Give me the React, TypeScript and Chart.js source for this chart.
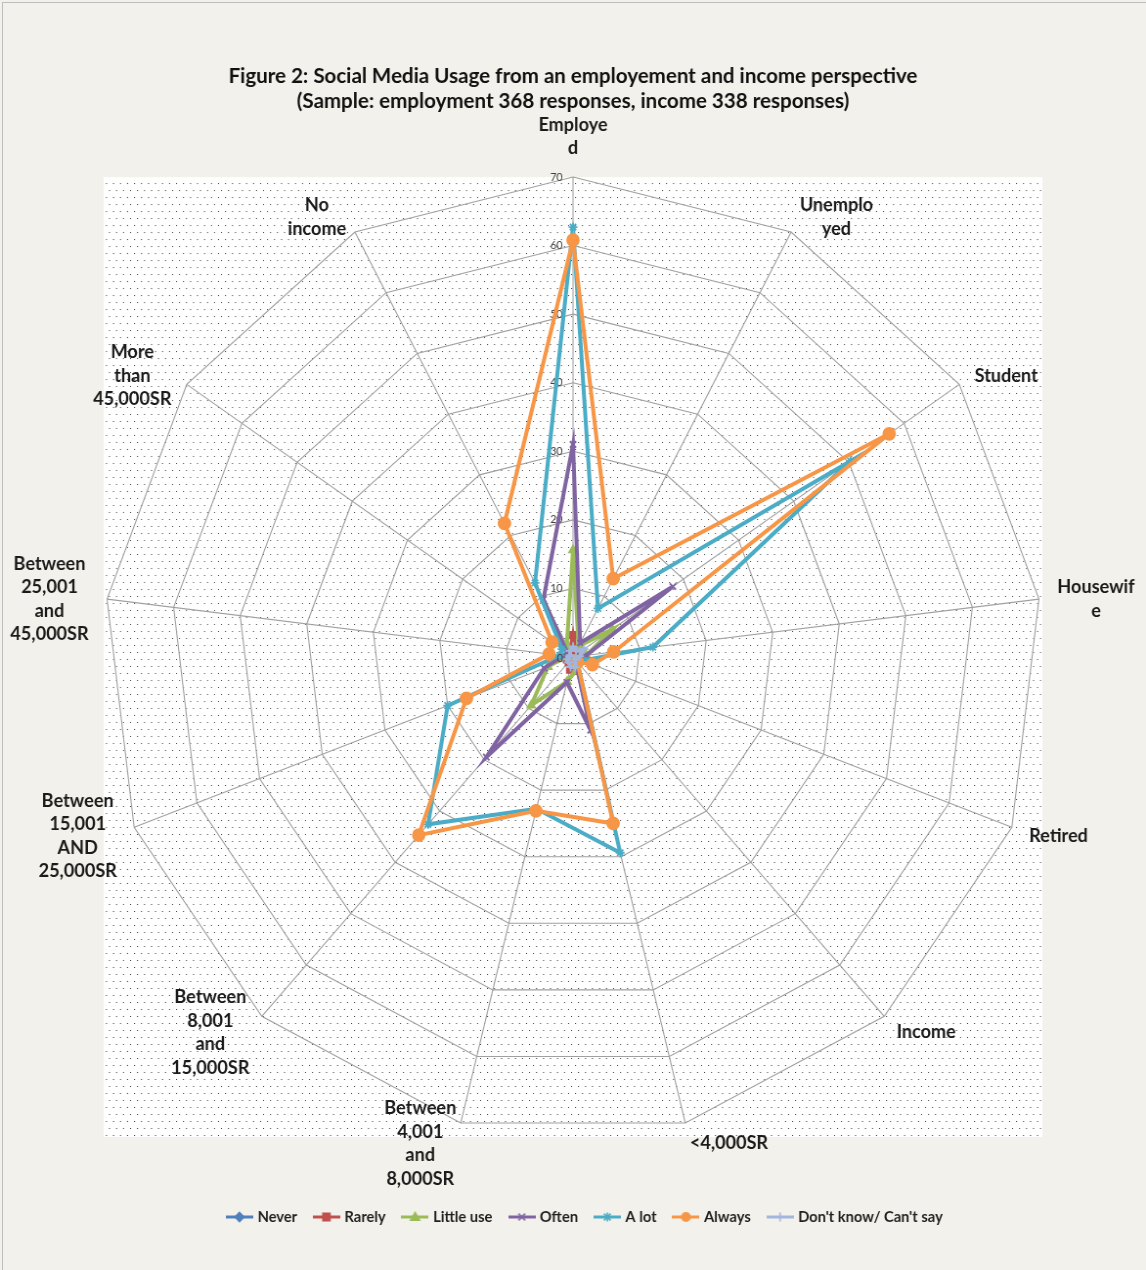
import React, { useEffect, useRef } from "react";
import { Chart, registerables } from "chart.js";

Chart.register(...registerables);

// ---------- data ----------
const categories: string[][] = [
  ["Employe", "d"],
  ["Unemplo", "yed"],
  ["Student"],
  ["Housewif", "e"],
  ["Retired"],
  ["Income"],
  ["<4,000SR"],
  ["Between", "4,001", "and", "8,000SR"],
  ["Between", "8,001", "and", "15,000SR"],
  ["Between", "15,001", "AND", "25,000SR"],
  ["Between", "25,001", "and", "45,000SR"],
  ["More", "than", "45,000SR"],
  ["No", "income"],
];

const seriesNames = ["Never", "Rarely", "Little use", "Often", "A lot", "Always", "Don't know/ Can't say"];

const never = [1.0, 0.5, 1.0, 0.5, 0.3, 0.3, 1.0, 1.0, 0.6, 0.5, 0.3, 0.3, 0.5];
const rarely = [3.2, 1.0, 1.5, 1.0, 0.5, 0.5, 2.1, 1.9, 1.0, 1.0, 0.5, 0.5, 1.0];
const littleUse = [15.6, 1.8, 7.1, 2.0, 1.0, 0.5, 2.0, 3.7, 9.4, 4.0, 1.0, 1.0, 2.0];
const often = [31.0, 2.3, 18.1, 2.0, 1.0, 0.5, 11.0, 3.8, 19.5, 4.6, 1.5, 1.0, 9.5];
const aLot = [62.7, 8.0, 50.3, 12.0, 1.5, 1.0, 29.4, 22.8, 32.6, 20.0, 2.0, 2.0, 12.2];
const always = [60.8, 12.9, 57.3, 6.1, 3.1, 1.0, 25.0, 23.1, 34.7, 17.0, 3.6, 3.8, 22.0];
const dontKnow = [1.5, 1.0, 2.0, 1.0, 0.5, 0.5, 1.5, 1.5, 1.0, 1.0, 0.5, 0.5, 1.0];

const seriesValues = [never, rarely, littleUse, often, aLot, always, dontKnow];

const axisMin = 0;
const axisMax = 70;
const axisStep = 10;

const titleLines = [
  "Figure 2: Social Media Usage from an employement and income perspective",
  "(Sample: employment 368 responses, income 338 responses)",
];

// ---------- styles ----------
const seriesColors = ["#4F81BD", "#C0504D", "#9BBB59", "#8064A2", "#4BACC6", "#F79646", "#A3B6DC"];
const seriesMarkers = ["rectRot", "rect", "triangle", "crossRot", "star", "circle", "cross"];
const seriesMarkerRadius = [4.5, 4.5, 4.5, 4.5, 4.5, 6, 4.5];

const CANVAS_W = 1172; // drawn width, displayed at 1146 (reference is slightly squeezed horizontally)
const CANVAS_H = 1270;
const CSS_W = 1146;
const RADIUS = 480;
const LABEL_GAP = 19;
const LABEL_LINE = 23.5;
const LEGEND_SHIFT = 13;
const FONT = "Lato, 'Open Sans', 'DejaVu Sans', sans-serif";

function makeLegendIcon(color: string, marker: string, radius: number): HTMLCanvasElement {
  const c = document.createElement("canvas");
  c.width = 28;
  c.height = 16;
  const g = c.getContext("2d")!;
  g.strokeStyle = color;
  g.fillStyle = color;
  g.lineWidth = 3;
  g.beginPath();
  g.moveTo(0, 8);
  g.lineTo(28, 8);
  g.stroke();
  const cx = 14, cy = 8, r = Math.min(radius, 5);
  g.lineWidth = 1.6;
  g.beginPath();
  switch (marker) {
    case "rectRot":
      g.moveTo(cx, cy - r); g.lineTo(cx + r, cy); g.lineTo(cx, cy + r); g.lineTo(cx - r, cy); g.closePath();
      g.fill(); g.stroke();
      break;
    case "rect":
      g.rect(cx - r * 0.8, cy - r * 0.8, r * 1.6, r * 1.6); g.fill(); g.stroke();
      break;
    case "triangle":
      g.moveTo(cx, cy - r); g.lineTo(cx + r, cy + r * 0.7); g.lineTo(cx - r, cy + r * 0.7); g.closePath();
      g.fill(); g.stroke();
      break;
    case "crossRot":
      g.moveTo(cx - r * 0.75, cy - r * 0.75); g.lineTo(cx + r * 0.75, cy + r * 0.75);
      g.moveTo(cx + r * 0.75, cy - r * 0.75); g.lineTo(cx - r * 0.75, cy + r * 0.75);
      g.stroke();
      break;
    case "star":
      g.moveTo(cx - r * 0.75, cy - r * 0.75); g.lineTo(cx + r * 0.75, cy + r * 0.75);
      g.moveTo(cx + r * 0.75, cy - r * 0.75); g.lineTo(cx - r * 0.75, cy + r * 0.75);
      g.moveTo(cx, cy - r); g.lineTo(cx, cy + r);
      g.stroke();
      break;
    case "circle":
      g.arc(cx, cy, r, 0, Math.PI * 2); g.fill();
      break;
    case "cross":
      g.moveTo(cx, cy - r); g.lineTo(cx, cy + r); g.moveTo(cx - r, cy); g.lineTo(cx + r, cy);
      g.stroke();
      break;
  }
  return c;
}

function makeDotPattern(ctx: CanvasRenderingContext2D) {
  const t = document.createElement("canvas");
  t.width = 7;
  t.height = 14;
  const g = t.getContext("2d")!;
  g.fillStyle = "#3c3c3c";
  g.fillRect(1, 1, 1, 1);
  g.fillRect(4, 8, 1, 1);
  const pat = ctx.createPattern(t, "repeat");
  if (pat && typeof DOMMatrix !== "undefined") {
    // keep a 7px css period after the horizontal squeeze
    pat.setTransform(new DOMMatrix().scale(CANVAS_W / CSS_W, 1));
  }
  return pat;
}

const decorPlugin: any = {
  id: "decor",
  afterLayout(chart: any) {
    if (chart.legend) {
      chart.legend.left += LEGEND_SHIFT;
      chart.legend.right += LEGEND_SHIFT;
    }
  },
  beforeDraw(chart: any) {
    const { ctx, width, height } = chart;
    const r = chart.scales.r;
    ctx.save();
    ctx.fillStyle = "#F3F1EB";
    ctx.fillRect(0, 0, width, height);
    ctx.strokeStyle = "#BDBDBD";
    ctx.lineWidth = 1;
    ctx.strokeRect(2.5, 2.5, width + 20, height + 20);
    const x0 = r.xCenter - r.drawingArea;
    const y0 = r.yCenter - r.drawingArea;
    const s = r.drawingArea * 2;
    ctx.fillStyle = "#FFFFFF";
    ctx.fillRect(x0, y0, s, s);
    const pat = makeDotPattern(ctx);
    if (pat) {
      ctx.fillStyle = pat;
      ctx.fillRect(x0, y0, s, s);
    }
    ctx.restore();
  },
  afterDraw(chart: any) {
    const { ctx } = chart;
    const r = chart.scales.r;
    ctx.save();
    // zero tick label (Chart.js skips it)
    ctx.font = `11px ${FONT}`;
    ctx.fillStyle = "#404040";
    ctx.textAlign = "right";
    ctx.textBaseline = "middle";
    ctx.fillText(String(axisMin), r.xCenter - 10, r.yCenter + 1);
    // category labels
    ctx.font = `bold 18.5px ${FONT}`;
    ctx.fillStyle = "#1a1a1a";
    ctx.textAlign = "center";
    ctx.textBaseline = "middle";
    (chart.data.labels as any[]).forEach((lab, i) => {
      const lines: string[] = Array.isArray(lab) ? lab : [lab];
      const ang = ((r.getIndexAngle(i) * 180) / Math.PI + 360) % 360;
      const p = r.getPointPosition(i, r.drawingArea + LABEL_GAP);
      const w = Math.max(...lines.map((l) => ctx.measureText(l).width));
      const h = lines.length * LABEL_LINE;
      let left: number, top: number;
      if (ang < 1 || ang > 359) {
        left = p.x - w / 2;
        top = p.y - h;
      } else if (Math.abs(ang - 180) < 1) {
        left = p.x - w / 2;
        top = p.y;
      } else if (ang < 180) {
        left = p.x;
        top = p.y - h / 2;
      } else {
        left = p.x - w;
        top = p.y - h / 2;
      }
      lines.forEach((l, k) => ctx.fillText(l, left + w / 2, top + LABEL_LINE * (k + 0.5) + 2));
    });
    ctx.restore();
  },
};

export default function App() {
  const ref = useRef<HTMLCanvasElement>(null);

  useEffect(() => {
    const canvas = ref.current!;
    const icons = seriesNames.map((_, i) => makeLegendIcon(seriesColors[i], seriesMarkers[i], seriesMarkerRadius[i]));

    const datasets = seriesNames.map((name, i) => ({
      label: name,
      data: seriesValues[i],
      borderColor: seriesColors[i],
      backgroundColor: seriesColors[i],
      borderWidth: 4,
      pointStyle: seriesMarkers[i],
      pointRadius: seriesMarkerRadius[i],
      pointHoverRadius: seriesMarkerRadius[i],
      pointBorderWidth: 1.8,
      pointBackgroundColor: seriesColors[i],
      pointBorderColor: seriesColors[i],
      fill: false,
      tension: 0,
      order: seriesNames.length - i,
    }));

    const pad = "\u00a0".repeat(12);

    const chart = new Chart(canvas, {
      type: "radar",
      data: { labels: categories as any, datasets: datasets as any },
      plugins: [decorPlugin],
      options: {
        responsive: false,
        devicePixelRatio: 1,
        animation: false,
        layout: {
          padding: { left: (CANVAS_W - 2 * RADIUS) / 2, right: (CANVAS_W - 2 * RADIUS) / 2, top: 0, bottom: 35.5 },
        },
        plugins: {
          title: {
            display: true,
            text: titleLines,
            color: "#111111",
            font: { family: FONT, size: 21, weight: "bold", lineHeight: 1.2 },
            padding: { top: 63.4, bottom: 63.2 },
          },
          legend: {
            display: true,
            position: "bottom",
            labels: {
              usePointStyle: true,
              pointStyleWidth: 22,
              padding: 19,
              color: "#1f1f1f",
              font: { family: FONT, size: 15, weight: "bold" },
              generateLabels(ch: any) {
                const items = Chart.defaults.plugins.legend.labels.generateLabels(ch);
                items.sort((a: any, b: any) => a.datasetIndex - b.datasetIndex);
                return items.map((it: any) => ({ ...it, pointStyle: icons[it.datasetIndex] }));
              },
            },
          },
          tooltip: { enabled: false },
        },
        scales: {
          r: {
            min: axisMin,
            max: axisMax,
            beginAtZero: true,
            afterFit(scale: any) {
              scale.xCenter = scale.chart.width / 2;
              scale.drawingArea = RADIUS;
              scale.yCenter = scale.top + RADIUS;
            },
            ticks: {
              stepSize: axisStep,
              display: true,
              showLabelBackdrop: false,
              color: "#404040",
              font: { family: FONT, size: 11 },
              callback: (v: any) => `${v}${pad}`,
            },
            grid: { color: "#A0A0A0", lineWidth: 1.1, circular: false },
            angleLines: { display: true, color: "#A0A0A0", lineWidth: 1.1 },
            pointLabels: { display: false },
          },
        },
      } as any,
    });
    return () => chart.destroy();
  }, []);

  return (
    <div style={{ position: "absolute", left: 0, top: 0, width: CSS_W, height: CANVAS_H }}>
      <canvas
        ref={ref}
        width={CANVAS_W}
        height={CANVAS_H}
        style={{ width: `${CSS_W}px`, height: `${CANVAS_H}px`, display: "block" }}
      />
    </div>
  );
}
